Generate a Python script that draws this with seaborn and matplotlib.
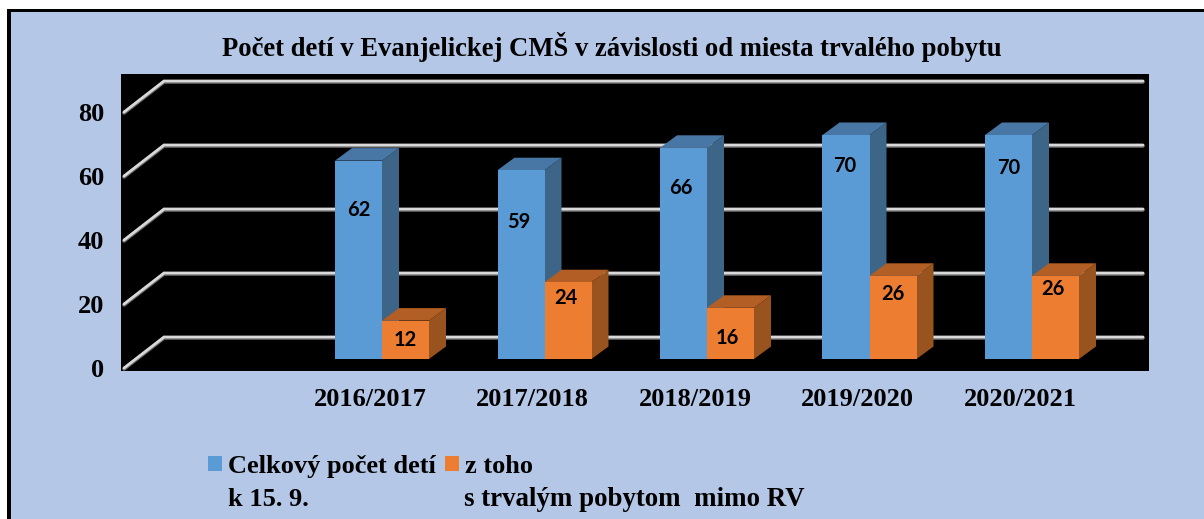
import numpy as np
import pandas as pd
import seaborn as sns
import matplotlib.pyplot as plt
from matplotlib.patches import Polygon, Rectangle

# -----------------------------
# Data
# -----------------------------
seasons = ["", "2016/2017", "2017/2018", "2018/2019", "2019/2020", "2020/2021"]
total_children = [np.nan, 62, 59, 66, 70, 70]
outside_rv = [np.nan, 12, 24, 16, 26, 26]
series_names = ["Celkový počet detí", "z toho"]
series_notes = ["k 15. 9.", "s trvalým pobytom  mimo RV"]
y_ticks = [0, 20, 40, 60, 80]

# label offset from the bar top / bar centre, in pixels
label_drop = [[49, 52, 40, 31, 33], [19, 16, 30, 18, 13]]
label_shift = [[0, -2, -3, -1, 0], [0, -2, -3, 0, -3]]

W, H = 1204, 519
BG = "#B4C7E7"
FRONT = ["#5B9BD5", "#ED7D31"]
TOP = ["#4877A5", "#B25E24"]
SIDE = ["#3C6587", "#98531F"]

sns.set_theme(style="white")
plt.rcParams["font.family"] = ["Liberation Serif", "DejaVu Serif"]
plt.rcParams["font.weight"] = "bold"

df = pd.DataFrame({
    "season": seasons * 2,
    "series": [series_names[0]] * 6 + [series_names[1]] * 6,
    "value": total_children + outside_rv,
})

fig = plt.figure(figsize=(W / 100, H / 100), dpi=100, facecolor="white")

# frame: black on top and left only, the picture is cut at the other sides
fig.add_artist(Rectangle((7 / W, 0), 1, 1 - 9 / H, transform=fig.transFigure,
                         facecolor="black", edgecolor="none", zorder=-2))
fig.add_artist(Rectangle((11 / W, 0), 1, 1 - 12 / H, transform=fig.transFigure,
                         facecolor=BG, edgecolor="none", zorder=-1))

ax = fig.add_axes([121 / W, 1 - 371 / H, (1149 - 121) / W, (371 - 74) / H])
ax.set_facecolor("black")

sns.barplot(
    data=df, x="season", y="value", hue="series", order=seasons,
    palette=FRONT, width=94 / 162.5, gap=0, saturation=1, legend=True,
    linewidth=0, zorder=3, ax=ax,
)

# pixel scales of the axes
px_x = 162.5
px_y = 3.2
ax.set_xlim((121 - 219.5) / px_x, (1149 - 219.5) / px_x)
ax.set_ylim((368 - 371) / px_y, (368 - 74) / px_y)

# back wall gridlines with the slanted side wall part
x_front, x_back, x_right = (124 - 219.5) / px_x, (164 - 219.5) / px_x, (1143 - 219.5) / px_x
rise = 31 / px_y
for v in y_ticks:
    xs = [x_front, x_back, x_right]
    ys = [v, v + rise, v + rise]
    ax.plot(xs, [y - 0.3 for y in ys], color="#6E6E6E", lw=2.6, zorder=1, solid_joinstyle="miter")
    ax.plot(xs, ys, color="#D9D9D9", lw=2.0, zorder=1.1, solid_joinstyle="miter")

# bar depth
base = 9 / px_y
dx = 17 / px_x
dy = 12.5 / px_y
for s, bars in enumerate(ax.containers):
    for i, bar in enumerate(b for b in bars if np.isfinite(b.get_height())):
        bar.set_y(base)
        x0, x1 = bar.get_x(), bar.get_x() + bar.get_width()
        y0, y1 = base, base + bar.get_height()
        ax.add_patch(Polygon([(x1, y0), (x1 + dx, y0 + dy), (x1 + dx, y1 + dy), (x1, y1)],
                             facecolor=SIDE[s], edgecolor="none", zorder=2.5 + s / 10))
        ax.add_patch(Polygon([(x0, y1), (x0 + dx, y1 + dy), (x1 + dx, y1 + dy), (x1, y1)],
                             facecolor=TOP[s], edgecolor="none", zorder=2.5 + s / 10))
        ax.annotate(
            f"{bar.get_height():.0f}", xy=((x0 + x1) / 2, y1),
            xytext=(label_shift[s][i] * 0.72, -label_drop[s][i] * 0.72),
            textcoords="offset points", ha="center", va="center",
            fontsize=14.5, fontweight="bold", family="Lato", color="black", zorder=5,
        )

# axis labels
ax.set_xticks(np.arange(6) - 12 / px_x, seasons)
ax.set_yticks(y_ticks)
ax.set_xlabel("")
ax.set_ylabel("")
ax.tick_params(axis="x", length=0, pad=12, labelsize=19, colors="black")
ax.tick_params(axis="y", length=0, pad=12, labelsize=19, colors="black")
for side in ax.spines:
    ax.spines[side].set_visible(False)

# title
fig.text(612 / W, 1 - 47 / H, "Počet detí v Evanjelickej CMŠ v závislosti od miesta trvalého pobytu",
         ha="center", va="center", fontsize=19.2, fontweight="bold", color="black")

# legend, first lines of the entries come from the hue levels
handles, labels = ax.get_legend_handles_labels()
ax.get_legend().remove()
fig.legend(
    handles, labels, ncols=2, loc="upper left", bbox_to_anchor=(208 / W, 1 - 455 / H),
    frameon=False, fontsize=19, handlelength=0.53, handleheight=0.53, labelcolor="black",
    handletextpad=0.23, columnspacing=0.35, borderpad=0, borderaxespad=0,
)
fig.text(228 / W, 1 - 500 / H, series_notes[0], ha="left", va="center", fontsize=19, color="black")
fig.text(464 / W, 1 - 500 / H, series_notes[1], ha="left", va="center", fontsize=19.4, color="black")

fig.savefig("out.png", dpi=100)
